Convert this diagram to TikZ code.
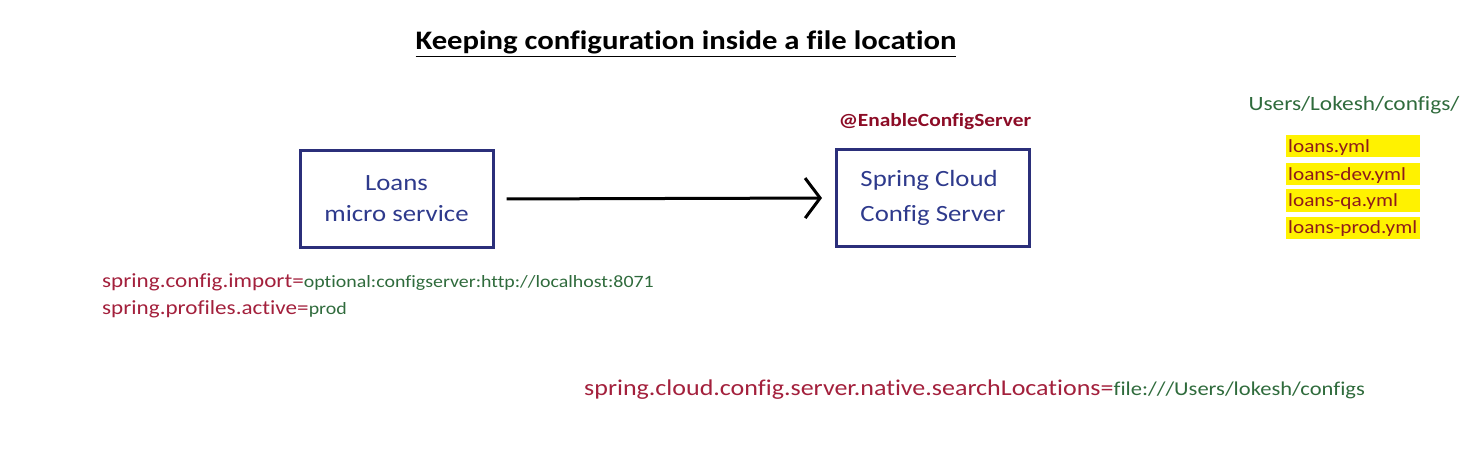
\documentclass[tikz,border=0pt]{standalone}
\usepackage{fontspec}
\setmainfont{Carlito}[FakeStretch=1.15,Ligatures=NoCommon]
\usetikzlibrary{arrows.meta}
\definecolor{navy}{HTML}{2B2F7A}
\definecolor{navytext}{HTML}{2E3A8C}
\definecolor{keyred}{HTML}{A3203C}
\definecolor{valgreen}{HTML}{2F6B3C}
\definecolor{annored}{HTML}{8C0C26}
\definecolor{fileyellow}{HTML}{FFF200}
\definecolor{filered}{HTML}{8E1B1B}
\tikzset{
  svc/.style={draw=navy,line width=3pt,text=navytext,align=center,
    inner sep=0pt,minimum width=193pt,minimum height=97pt},
  flow/.style={line width=3pt,-{Straight Barb[length=15pt,width=40pt,line width=3pt]},
    shorten <=12pt,shorten >=13pt},
  file/.style={fill=fileyellow,text=filered,anchor=west,inner sep=2pt,
    text width=130pt,align=left,minimum height=22pt,text depth=0pt,
    font=\fontsize{18.5}{20}\selectfont},
  txt/.style={anchor=base west,inner sep=0pt}
}
\begin{document}
\begin{tikzpicture}[x=1pt,y=-1pt]
  \useasboundingbox (0,0) rectangle (1471,457);

  \node[anchor=base,inner sep=0pt,font=\fontsize{26.7}{30}\selectfont\bfseries] (title)
    at (686,50) {\underline{Keeping configuration inside a file location}};

  \node[svc,font=\fontsize{23.3}{31}\selectfont] (loans) at (396.5,199) {Loans\\micro service};
  \node[svc,align=left,font=\fontsize{23.3}{35}\selectfont] (server) at (933,198) {Spring Cloud\\Config Server};
  \draw[flow] (loans.east) -- (server.west);

  \node[txt,anchor=base,text=annored,font=\fontsize{18.6}{20}\selectfont\bfseries] (anno)
    at (935,127) {@EnableConfigServer};

  \node[txt,anchor=base,text=valgreen,font=\fontsize{20.3}{24}\selectfont] (dir)
    at (1354,111) {Users/Lokesh/configs/};
  \foreach \f/\y [count=\i] in {loans.yml/146,loans-dev.yml/174,loans-qa.yml/200.5,loans-prod.yml/227.5}
    \node[file] (file\i) at (1286,\y) {\f};

  \node[txt,font=\fontsize{20.1}{24}\selectfont] (import) at (102,287)
    {\textcolor{keyred}{spring.config.import=}\textcolor{valgreen}{\fontsize{17.3}{20}\selectfont optional:configserver:http://localhost:8071}};
  \node[txt,font=\fontsize{20.1}{24}\selectfont] (profile) at (102,314)
    {\textcolor{keyred}{spring.profiles.active=}\textcolor{valgreen}{\fontsize{17.3}{20}\selectfont prod}};

  \node[txt,font=\fontsize{22.6}{26}\selectfont] (native) at (584,395)
    {\textcolor{keyred}{spring.cloud.config.server.native.searchLocations=}\textcolor{valgreen}{\fontsize{19.6}{24}\selectfont file:///Users/lokesh/configs}};
\end{tikzpicture}
\end{document}
